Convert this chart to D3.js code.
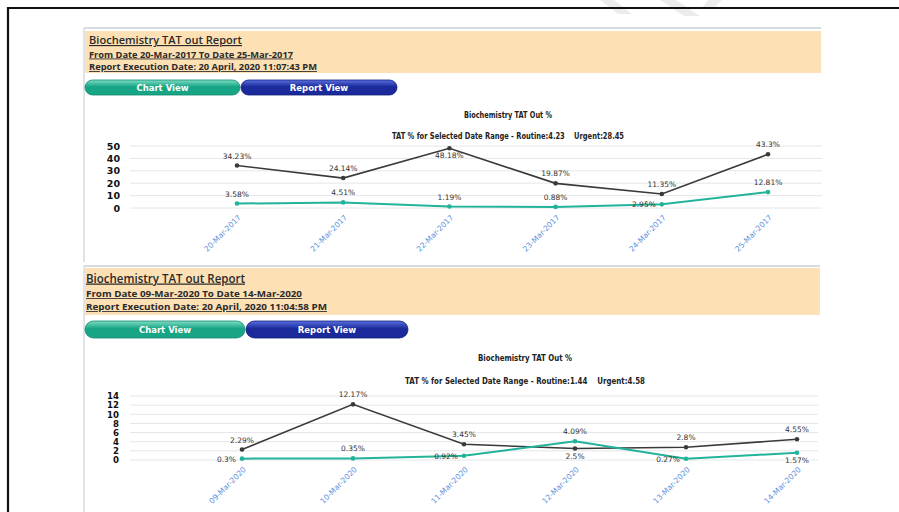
<!DOCTYPE html>
<html>
<head>
<meta charset="utf-8">
<script src="https://cdn.jsdelivr.net/npm/d3@7"></script>
<style>
  body { margin: 0; background: #fff; }
  svg { display: block; }
</style>
</head>
<body>
<div id="chart"></div>
<script>
// DATA //

const dates2017 = ["20-Mar-2017", "21-Mar-2017", "22-Mar-2017", "23-Mar-2017", "24-Mar-2017", "25-Mar-2017"];
const urgent2017 = [34.23, 24.14, 48.18, 19.87, 11.35, 43.3];
const routine2017 = [3.58, 4.51, 1.19, 0.88, 2.95, 12.81];
const yTicks2017 = [0, 10, 20, 30, 40, 50];

const dates2020 = ["09-Mar-2020", "10-Mar-2020", "11-Mar-2020", "12-Mar-2020", "13-Mar-2020", "14-Mar-2020"];
const urgent2020 = [2.29, 12.17, 3.45, 2.5, 2.8, 4.55];
const routine2020 = [0.3, 0.35, 0.92, 4.09, 0.27, 1.57];
const yTicks2020 = [0, 2, 4, 6, 8, 10, 12, 14];

// where each value label sits relative to its point
const urgentLabelPos2017 = ["top", "top", "below", "top", "top", "top"];
const routineLabelPos2017 = ["top", "top", "top", "top", "left", "top"];
const urgentLabelPos2020 = ["top", "top", "top", "below", "top", "top"];
const routineLabelPos2020 = ["left", "top", "left", "top", "left", "below"];

// STYLES //

const urgentColor = "#3a3a3a";
const routineColor = "#22b39a";
const gridColor = "#e4e6e8";
const axisLabelColor = "#5b8fdc";

const svg = d3.select("#chart").append("svg").attr("width", 899).attr("height", 512);

const defs = svg.append("defs");
function addGradient(id, top, bottom) {
  const g = defs.append("linearGradient").attr("id", id).attr("x1", 0).attr("x2", 0).attr("y1", 0).attr("y2", 1);
  g.append("stop").attr("offset", "0%").attr("stop-color", top);
  g.append("stop").attr("offset", "45%").attr("stop-color", bottom);
  g.append("stop").attr("offset", "100%").attr("stop-color", bottom);
}
addGradient("gradChart", "#7fdcc4", "#17a585");
addGradient("gradReport", "#5a6fe0", "#1a2a9a");

// faint watermark at top
svg.append("g")
  .attr("fill", "#ececec")
  .selectAll("polygon")
  .data([[[600, 0], [614, 0], [632, 14], [618, 14]], [[660, 0], [676, 0], [700, 16], [684, 16]], [[708, 0], [722, 0], [714, 8], [702, 8]]])
  .join("polygon")
  .attr("points", (d) => d.map((p) => p.join(",")).join(" "));

// outer black frame
svg.append("path")
  .attr("d", "M8,512 L8,8 L899,8")
  .attr("fill", "none")
  .attr("stroke", "#111")
  .attr("stroke-width", 2.2);

// DRAW ONE REPORT PANEL //

function drawPanel(p) {
  const g = svg.append("g");

  // panel frame
  g.append("line").attr("x1", 84).attr("x2", 84).attr("y1", p.frameTop).attr("y2", p.frameBottom)
    .attr("stroke", "#d6dbe0").attr("stroke-width", 1.5);
  g.append("line").attr("x1", 84).attr("x2", p.headerRight).attr("y1", p.frameTop).attr("y2", p.frameTop)
    .attr("stroke", "#d6dbe0").attr("stroke-width", 2);

  // header
  g.append("rect")
    .attr("x", 85).attr("y", p.headerTop)
    .attr("width", p.headerRight - 85).attr("height", p.headerBottom - p.headerTop)
    .attr("fill", "#fde0b4");

  const headerLines = [
    { text: p.title, y: p.titleY, x2: p.titleEnd, size: p.titleSize, weight: 600 },
    { text: p.fromText, y: p.fromY, x2: p.fromEnd, size: 8.6, weight: "bold" },
    { text: p.execText, y: p.execY, x2: p.execEnd, size: 8.6, weight: "bold" },
  ];
  headerLines.forEach((h) => {
    g.append("text")
      .attr("x", p.headerTextX).attr("y", h.y)
      .attr("font-family", "Open Sans, DejaVu Sans, sans-serif")
      .attr("font-size", h.size)
      .attr("font-weight", h.weight)
      .attr("fill", "#2a2a2a")
      .attr("text-decoration", "underline")
      .attr("textLength", h.x2 - p.headerTextX)
      .attr("lengthAdjust", "spacingAndGlyphs")
      .text(h.text);
  });

  // buttons
  const buttons = [
    { label: "Chart View", x1: 85, x2: p.btnMid, fill: "url(#gradChart)", stroke: "#0f8a6e" },
    { label: "Report View", x1: p.btnMid + 1, x2: p.btnEnd, fill: "url(#gradReport)", stroke: "#101c78" },
  ];
  buttons.forEach((b) => {
    const h = p.btnBottom - p.btnTop;
    g.append("rect")
      .attr("x", b.x1).attr("y", p.btnTop)
      .attr("width", b.x2 - b.x1).attr("height", h)
      .attr("rx", h / 2).attr("ry", h / 2)
      .attr("fill", b.fill).attr("stroke", b.stroke).attr("stroke-width", 0.8);
    g.append("text")
      .attr("x", (b.x1 + b.x2) / 2).attr("y", p.btnTop + h / 2 + 3)
      .attr("text-anchor", "middle")
      .attr("font-family", "DejaVu Sans, sans-serif")
      .attr("font-size", 8.5).attr("font-weight", "bold")
      .attr("fill", "#fff")
      .text(b.label);
  });

  // chart titles
  g.append("text")
    .attr("x", p.titleCenter).attr("y", p.chartTitleY)
    .attr("text-anchor", "middle")
    .attr("font-family", "DejaVu Sans, sans-serif").attr("font-size", 8).attr("font-weight", "bold")
    .attr("fill", "#222")
    .attr("textLength", p.chartTitleW).attr("lengthAdjust", "spacingAndGlyphs")
    .text("Biochemistry TAT Out %");
  g.append("text")
    .attr("x", p.titleCenter).attr("y", p.subTitleY)
    .attr("text-anchor", "middle")
    .attr("font-family", "DejaVu Sans, sans-serif").attr("font-size", 8.5).attr("font-weight", "bold")
    .attr("fill", "#222")
    .style("white-space", "pre")
    .attr("textLength", p.subTitleW).attr("lengthAdjust", "spacingAndGlyphs")
    .text(p.subTitle);

  // scales
  const x = d3.scalePoint().domain(p.dates).range([p.xFirst, p.xLast]);
  const y = d3.scaleLinear().domain([0, d3.max(p.yTicks)]).range([p.yZero, p.yTop]);

  // gridlines
  g.append("g")
    .selectAll("line")
    .data(p.yTicks)
    .join("line")
    .attr("x1", p.gridLeft).attr("x2", p.gridRight)
    .attr("y1", (d) => y(d)).attr("y2", (d) => y(d))
    .attr("stroke", gridColor).attr("stroke-width", 1);

  // y axis labels
  const yAxis = g.append("g")
    .attr("transform", `translate(${p.yLabelX},0)`)
    .call(d3.axisLeft(y).tickValues(p.yTicks).tickSize(0).tickPadding(0));
  yAxis.select(".domain").remove();
  yAxis.selectAll("text")
    .attr("font-family", "DejaVu Sans, sans-serif")
    .attr("font-size", p.yFontSize).attr("font-weight", "bold")
    .attr("fill", "#111");

  // x axis labels
  const xAxis = g.append("g")
    .attr("transform", `translate(0,${p.yZero})`)
    .call(d3.axisBottom(x).tickSize(0).tickPadding(0));
  xAxis.select(".domain").remove();
  xAxis.selectAll("text")
    .attr("font-family", "DejaVu Sans, sans-serif")
    .attr("font-size", 7.6)
    .attr("fill", axisLabelColor)
    .attr("text-anchor", "end")
    .attr("dy", 0)
    .attr("transform", "translate(4,10) rotate(-45)");

  // series
  const series = [
    { values: p.urgent, color: urgentColor, pos: p.urgentPos, width: 1.6 },
    { values: p.routine, color: routineColor, pos: p.routinePos, width: 2 },
  ];
  const line = d3.line().x((d) => x(d.date)).y((d) => y(d.value));

  series.forEach((s) => {
    const pts = p.dates.map((date, i) => ({ date, value: s.values[i], pos: s.pos[i] }));
    g.append("path")
      .datum(pts)
      .attr("d", line)
      .attr("fill", "none")
      .attr("stroke", s.color)
      .attr("stroke-width", s.width);
    g.append("g")
      .selectAll("circle")
      .data(pts)
      .join("circle")
      .attr("cx", (d) => x(d.date)).attr("cy", (d) => y(d.value))
      .attr("r", 2.3)
      .attr("fill", s.color);
    g.append("g")
      .selectAll("text")
      .data(pts)
      .join("text")
      .attr("x", (d) => x(d.date) + (d.pos === "left" ? -6 : 0))
      .attr("y", (d) => y(d.value) + (d.pos === "top" ? -7 : d.pos === "below" ? 10 : 3))
      .attr("text-anchor", (d) => (d.pos === "left" ? "end" : "middle"))
      .attr("font-family", "DejaVu Sans, sans-serif")
      .attr("font-size", 7.5)
      .attr("fill", "#333")
      .text((d) => d.value + "%");
  });
}

drawPanel({
  frameTop: 28, frameBottom: 262,
  headerTop: 31, headerBottom: 73, headerRight: 821,
  headerTextX: 89,
  title: "Biochemistry TAT out Report", titleY: 44, titleEnd: 242, titleSize: 11.5,
  fromText: "From Date 20-Mar-2017 To Date 25-Mar-2017", fromY: 57.5, fromEnd: 293,
  execText: "Report Execution Date: 20 April, 2020 11:07:43 PM", execY: 70, execEnd: 317,
  btnTop: 80, btnBottom: 95, btnMid: 240, btnEnd: 397,
  titleCenter: 508, chartTitleY: 118, chartTitleW: 88,
  subTitle: "TAT % for Selected Date Range - Routine:4.23    Urgent:28.45", subTitleY: 139, subTitleW: 232,
  dates: dates2017, urgent: urgent2017, routine: routine2017, yTicks: yTicks2017,
  urgentPos: urgentLabelPos2017, routinePos: routineLabelPos2017,
  xFirst: 237, xLast: 768, yZero: 208, yTop: 146,
  gridLeft: 130, gridRight: 822, yLabelX: 120, yFontSize: 9.5,
});

drawPanel({
  frameTop: 266, frameBottom: 512,
  headerTop: 268, headerBottom: 315, headerRight: 820,
  headerTextX: 86,
  title: "Biochemistry TAT out Report", titleY: 282.5, titleEnd: 245, titleSize: 12.5,
  fromText: "From Date 09-Mar-2020 To Date 14-Mar-2020", fromY: 297, fromEnd: 302,
  execText: "Report Execution Date: 20 April, 2020 11:04:58 PM", execY: 310, execEnd: 327,
  btnTop: 321, btnBottom: 338, btnMid: 245, btnEnd: 408,
  titleCenter: 525, chartTitleY: 361, chartTitleW: 94,
  subTitle: "TAT % for Selected Date Range - Routine:1.44    Urgent:4.58", subTitleY: 384, subTitleW: 240,
  dates: dates2020, urgent: urgent2020, routine: routine2020, yTicks: yTicks2020,
  urgentPos: urgentLabelPos2020, routinePos: routineLabelPos2020,
  xFirst: 242, xLast: 797, yZero: 460, yTop: 396,
  gridLeft: 130, gridRight: 818, yLabelX: 119, yFontSize: 8.6,
});
</script>
</body>
</html>
